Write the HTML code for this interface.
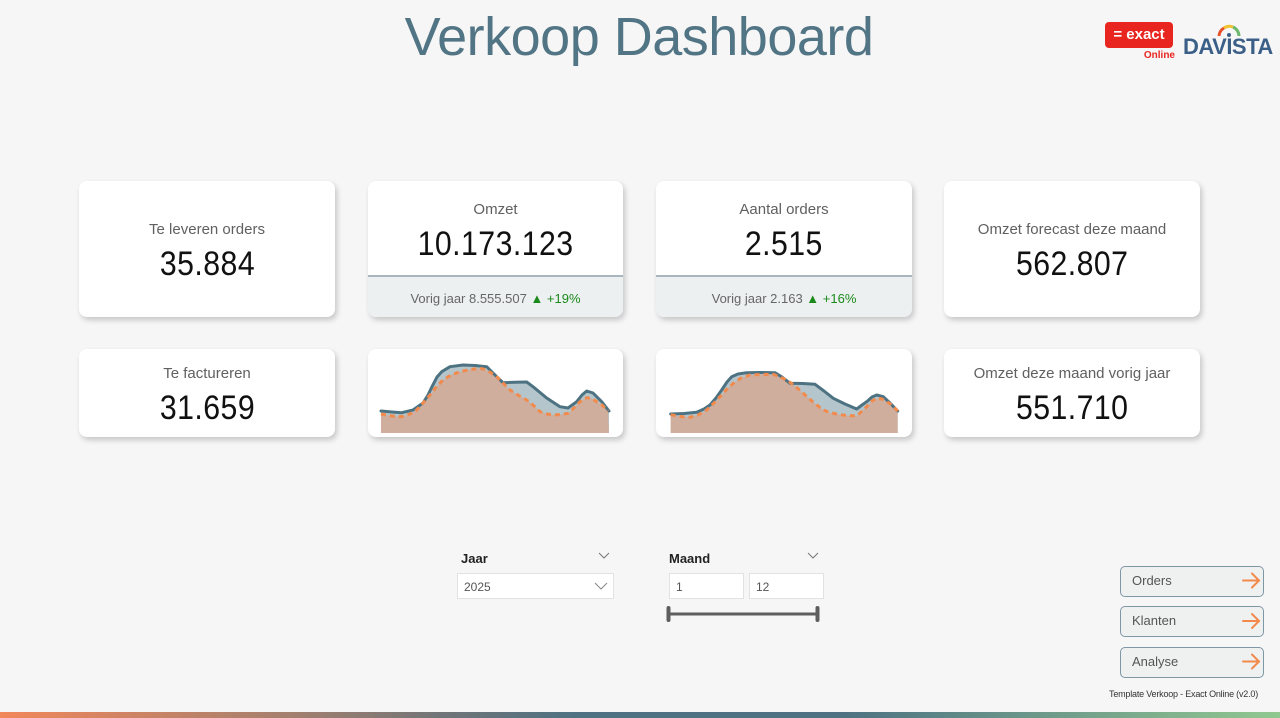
<!DOCTYPE html>
<html>
<head>
<meta charset="utf-8">
<style>
  html,body{margin:0;padding:0;}
  body{width:1280px;height:718px;background:#f6f6f6;position:relative;overflow:hidden;font-family:"Liberation Sans",sans-serif;}
  .abs{position:absolute;}
  .title{position:absolute;left:0;width:1278px;top:10px;text-align:center;font-size:54px;line-height:54px;color:#527585;letter-spacing:-0.5px;}
  .card{position:absolute;background:#fff;border-radius:8px;box-shadow:2px 3px 6px rgba(0,0,0,0.2);overflow:hidden;}
  .lbl{position:absolute;left:0;right:0;text-align:center;font-size:15px;line-height:20px;color:#606060;}
  .val{position:absolute;left:0;right:0;text-align:center;font-size:34px;line-height:40px;color:#111;}
  .val span{display:inline-block;transform:scaleX(0.89);letter-spacing:0.5px;}
  .foot{position:absolute;left:0;right:0;bottom:0;height:40px;background:#edf0f1;border-top:2px solid #a8b7bf;}
  .foot div{position:absolute;left:0;right:0;top:14px;text-align:center;font-size:13px;line-height:16px;color:#666;}
  .green{color:#1a8a1a;}
  .btn{position:absolute;left:1120px;width:142px;height:29px;border:1px solid #7d97a5;border-radius:5px;background:#eff1f1;}
  .btn span{position:absolute;left:11px;top:6px;font-size:13px;line-height:16px;color:#555;}
  .box{position:absolute;background:#fff;border:1px solid #e2e2e2;height:24px;}
  .box span{position:absolute;left:6px;top:6px;font-size:12px;line-height:14px;color:#555;}
  .flbl{position:absolute;font-size:13px;line-height:16px;color:#222;font-weight:bold;}
</style>
</head>
<body>

<div class="title">Verkoop Dashboard</div>

<!-- Logos -->
<div class="abs" style="left:1105px;top:22px;width:68px;height:26px;background:#e8251f;border-radius:4px;"></div>
<div class="abs" style="left:1105px;top:26px;width:68px;text-align:center;color:#fff;font-size:15px;line-height:18px;font-weight:bold;">= exact</div>
<div class="abs" style="left:1140px;top:50px;width:35px;text-align:right;color:#e8251f;font-size:10px;line-height:12px;font-weight:bold;">Online</div>
<div class="abs" style="left:1183px;top:35px;color:#3b5f87;font-size:22px;line-height:24px;font-weight:bold;letter-spacing:-0.5px;">DAVISTA</div>
<svg class="abs" style="left:1215px;top:24px" width="28" height="14">
  <path d="M4 12 A10 10 0 0 1 9 4" stroke="#e8502a" stroke-width="3" fill="none"/>
  <path d="M9 4 A10 10 0 0 1 18 3" stroke="#f2c12e" stroke-width="3" fill="none"/>
  <path d="M18 3 A10 10 0 0 1 24 12" stroke="#6cb86a" stroke-width="3" fill="none"/>
  <circle cx="14" cy="11" r="2" fill="#3b5f87"/>
</svg>

<!-- Row 1 -->
<div class="card" style="left:79px;top:181px;width:256px;height:136px;">
  <div class="lbl" style="top:39px;">Te leveren orders</div>
  <div class="val" style="top:63px;"><span>35.884</span></div>
</div>
<div class="card" style="left:368px;top:181px;width:255px;height:136px;">
  <div class="lbl" style="top:19px;">Omzet</div>
  <div class="val" style="top:43px;"><span>10.173.123</span></div>
  <div class="foot"><div>Vorig jaar 8.555.507 <span class="green">▲ +19%</span></div></div>
</div>
<div class="card" style="left:656px;top:181px;width:256px;height:136px;">
  <div class="lbl" style="top:19px;">Aantal orders</div>
  <div class="val" style="top:43px;"><span>2.515</span></div>
  <div class="foot"><div>Vorig jaar 2.163 <span class="green">▲ +16%</span></div></div>
</div>
<div class="card" style="left:944px;top:181px;width:256px;height:136px;">
  <div class="lbl" style="top:39px;">Omzet forecast deze maand</div>
  <div class="val" style="top:63px;"><span>562.807</span></div>
</div>

<!-- Row 2 -->
<div class="card" style="left:79px;top:349px;width:256px;height:88px;">
  <div class="lbl" style="top:15px;">Te factureren</div>
  <div class="val" style="top:39px;"><span>31.659</span></div>
</div>
<div class="card" style="left:368px;top:349px;width:255px;height:88px;"></div>
<div class="card" style="left:656px;top:349px;width:256px;height:88px;"></div>
<div class="card" style="left:944px;top:349px;width:256px;height:88px;">
  <div class="lbl" style="top:15px;">Omzet deze maand vorig jaar</div>
  <div class="val" style="top:39px;"><span>551.710</span></div>
</div>

<!-- Filters -->
<div class="flbl" style="left:461px;top:551px;">Jaar</div>
<div class="box" style="left:457px;top:573px;width:155px;"><span>2025</span></div>
<div class="flbl" style="left:669px;top:551px;">Maand</div>
<div class="box" style="left:669px;top:573px;width:73px;"><span>1</span></div>
<div class="box" style="left:749px;top:573px;width:73px;"><span>12</span></div>

<!-- Buttons -->
<div class="btn" style="top:566px;"><span>Orders</span></div>
<div class="btn" style="top:606px;"><span>Klanten</span></div>
<div class="btn" style="top:647px;"><span>Analyse</span></div>

<!-- Sparklines & icons -->
<svg class="abs" style="left:0;top:0" width="1280" height="718">
  <!-- chart 1 -->
  <polygon fill="#b4c5cb" points="381,411 392,412 401.7,412.7 413,410 423,403 428,395 432,386.7 437,377 441.7,371.7 450,366.7 463,365 475,365.5 486.7,366.7 493,373 503,382.7 515,382.3 526.7,382 533,386.7 546.7,398 560,406.7 568,408 576.7,401.7 582,395 586.7,391 593,393 601.7,401.7 609,411 609,433 381,433"/>
  <polygon fill="#cfae9e" points="381,414 392,416 401.7,416.7 410,414 416.7,410 423,403 430,395 437,386 443,380 451,375 460,371.7 470,369.5 480,368.3 486.7,370 496.7,376.7 503,383 510,390 518,395 526.7,400 533,405 540,411.7 547,414 553,415 561,414.5 568,413.3 572,410 576.7,405 582,400 586.7,397.7 592,398.5 596.7,401.7 602,405 608,411 609,433 381,433"/>
  <polyline fill="none" stroke="#4d7282" stroke-width="3" stroke-linejoin="round" stroke-linecap="round" points="381,411 392,412 401.7,412.7 413,410 423,403 428,395 432,386.7 437,377 441.7,371.7 450,366.7 463,365 475,365.5 486.7,366.7 493,373 503,382.7 515,382.3 526.7,382 533,386.7 546.7,398 560,406.7 568,408 576.7,401.7 582,395 586.7,391 593,393 601.7,401.7 609,411"/>
  <polyline fill="none" stroke="#f28a4c" stroke-width="3" stroke-dasharray="5,4" stroke-linejoin="round" points="381,414 392,416 401.7,416.7 410,414 416.7,410 423,403 430,395 437,386 443,380 451,375 460,371.7 470,369.5 480,368.3 486.7,370 496.7,376.7 503,383 510,390 518,395 526.7,400 533,405 540,411.7 547,414 553,415 561,414.5 568,413.3 572,410 576.7,405 582,400 586.7,397.7 592,398.5 596.7,401.7 602,405 608,411"/>

  <!-- chart 2 -->
  <polygon fill="#b4c5cb" points="670.7,414 684,413.5 696.7,412.3 704,409 710,405 716,398 721.7,390 727,382 731.7,376.7 738,374 746.7,372.7 760,372.5 775,372.7 782,377 790,383.3 803,383.5 815,384.3 824,391 833.3,398.3 845,404 856.7,409 862,405 866.7,401.7 872,397 876.7,395 883.3,396.7 890,403 897.7,411 897.7,433 670.7,433"/>
  <polygon fill="#cfae9e" points="670.7,414.7 680,416.5 690,417.3 698,415 706.7,410 713,404 720,396.7 727,389 733.3,383.3 741,378 750,375 762,374.5 773.3,374.3 786.7,380 795,386 803.3,393.3 813,402 823.3,410 830,412.5 836.7,414 846,415.5 856.7,416 862,411 866.7,406.7 872,401 876.7,398.3 882,399 886.7,401.7 892,405 897.7,411 897.7,433 670.7,433"/>
  <polyline fill="none" stroke="#4d7282" stroke-width="3" stroke-linejoin="round" stroke-linecap="round" points="670.7,414 684,413.5 696.7,412.3 704,409 710,405 716,398 721.7,390 727,382 731.7,376.7 738,374 746.7,372.7 760,372.5 775,372.7 782,377 790,383.3 803,383.5 815,384.3 824,391 833.3,398.3 845,404 856.7,409 862,405 866.7,401.7 872,397 876.7,395 883.3,396.7 890,403 897.7,411"/>
  <polyline fill="none" stroke="#f28a4c" stroke-width="3" stroke-dasharray="5,4" stroke-linejoin="round" points="670.7,414.7 680,416.5 690,417.3 698,415 706.7,410 713,404 720,396.7 727,389 733.3,383.3 741,378 750,375 762,374.5 773.3,374.3 786.7,380 795,386 803.3,393.3 813,402 823.3,410 830,412.5 836.7,414 846,415.5 856.7,416 862,411 866.7,406.7 872,401 876.7,398.3 882,399 886.7,401.7 892,405 897.7,411"/>

  <!-- filter chevrons -->
  <polyline fill="none" stroke="#777" stroke-width="1" points="599,553 604,558 609,553"/>
  <polyline fill="none" stroke="#777" stroke-width="1" points="808,553 813,558 818,553"/>
  <polyline fill="none" stroke="#888" stroke-width="1" points="595,583 601,589 607,583"/>

  <!-- slider -->
  <line x1="669" y1="614" x2="818" y2="614" stroke="#5e5e5e" stroke-width="3"/>
  <rect x="666.5" y="606" width="4" height="16" rx="2" fill="#5e5e5e"/>
  <rect x="815.5" y="606" width="4" height="16" rx="2" fill="#5e5e5e"/>

  <!-- button arrows -->
  <g fill="none" stroke="#f28a4c" stroke-width="2" stroke-linecap="round">
    <line x1="1243" y1="580.5" x2="1259" y2="580.5"/><polyline points="1252,573.5 1259,580.5 1252,587.5"/>
    <line x1="1243" y1="621" x2="1259" y2="621"/><polyline points="1252,614 1259,621 1252,628"/>
    <line x1="1243" y1="661.5" x2="1259" y2="661.5"/><polyline points="1252,654.5 1259,661.5 1252,668.5"/>
  </g>
</svg>

<div class="abs" style="left:1058px;width:200px;top:689px;text-align:right;font-family:'Liberation Sans Narrow','Liberation Sans',sans-serif;font-size:9px;line-height:11px;color:#333;letter-spacing:-0.2px;">Template Verkoop - Exact Online (v2.0)</div>

<!-- bottom gradient bar -->
<div class="abs" style="left:0;top:712px;width:1280px;height:6px;background:linear-gradient(90deg,#f2875a 0%,#a6806e 22%,#6e7478 35%,#4e7282 45%,#4e7282 66%,#6e9a8a 82%,#90c890 100%);"></div>

</body>
</html>
